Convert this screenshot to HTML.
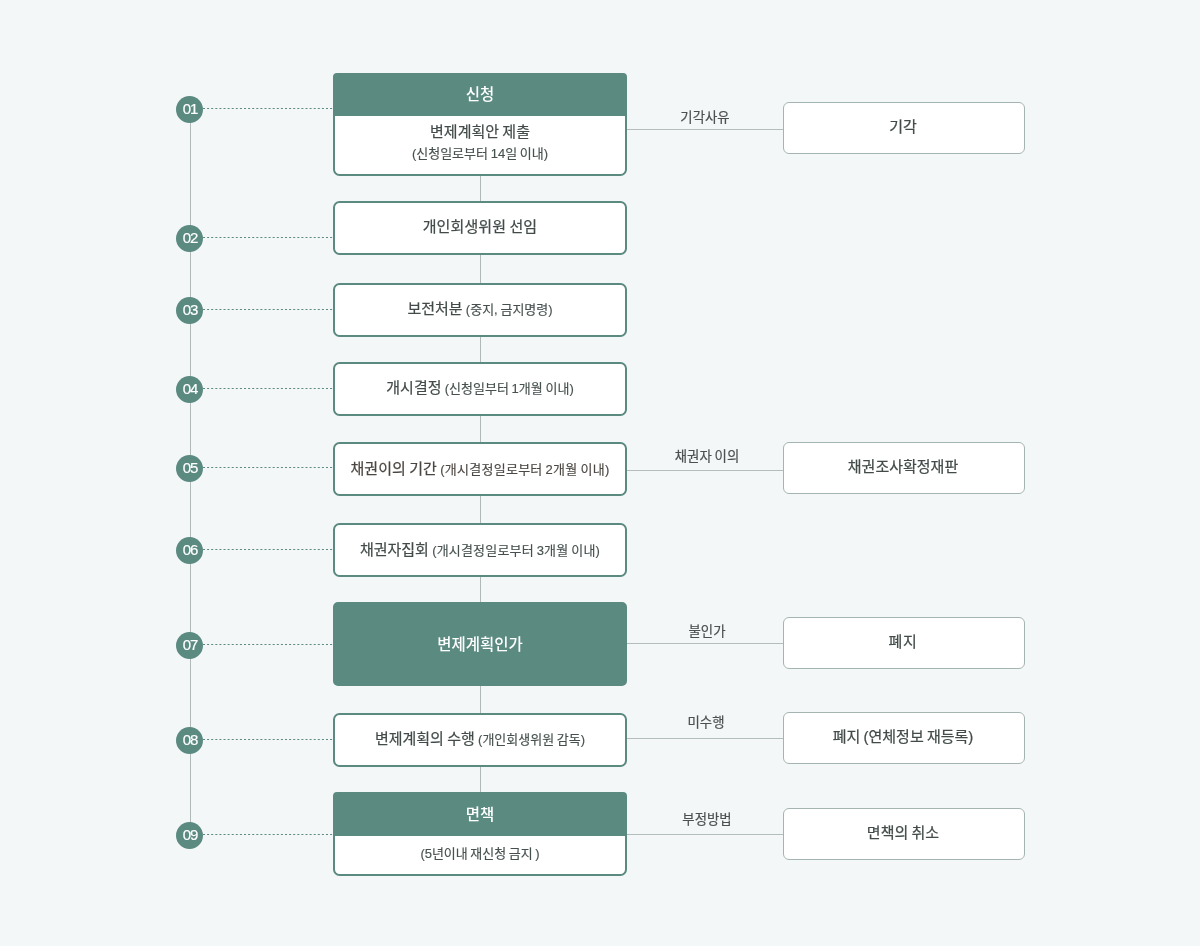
<!DOCTYPE html>
<html lang="ko">
<head>
<meta charset="utf-8">
<title>개인회생 절차</title>
<style>
*{box-sizing:border-box;margin:0;padding:0}
html,body{width:1200px;height:946px;overflow:hidden;background:#f4f7f8}
body{position:relative;font-family:"Liberation Sans","Noto Sans CJK KR",sans-serif;color:#424b4a;letter-spacing:0;word-spacing:-0.9px;font-size:15px;-webkit-text-stroke:0.22px #424b4a}
#wrap{position:absolute;left:0;top:0;width:1200px;height:946px;transform:translateZ(0)}
.vline{position:absolute;left:190px;top:110px;width:1px;height:725px;background:#b1b9b8}
.cline{position:absolute;left:480px;top:175px;width:1px;height:620px;background:#b1b9b8}
.dot{position:absolute;left:203px;width:130px;height:1px;display:block;overflow:hidden}
.num{position:absolute;left:176px;width:27px;height:27px;border-radius:50%;background:#5a8a80;color:#fff;font-size:15px;line-height:26px;text-align:center;letter-spacing:-1.2px;padding-left:1px;-webkit-text-stroke:0.2px #fff}
.box{position:absolute;left:333px;width:294px;border:2px solid #5a8a80;border-radius:6.5px;background:#fff;text-align:center;overflow:hidden;white-space:nowrap}
.box .in{position:absolute;left:0;right:0;top:50%;height:24px;line-height:24px;margin-top:-13px}
.box .hd{position:absolute;left:0;right:0;top:8px;height:24px;color:#fff;-webkit-text-stroke:0;font-size:15.5px;font-weight:500;line-height:24px}
.box .l1,.box .l2{position:absolute;left:0;right:0;height:24px;line-height:24px}
.box.head{border-radius:4px 4px 6.5px 6.5px}
.box.fill{border-radius:5px;background:#5a8a80;color:#fff;-webkit-text-stroke:0;font-size:15.5px;font-weight:500}
.g{display:block;transform:translateZ(0)}
.in,.l1,.l2,.hd,.lab,.rt{transform:translateZ(0)}
.t{font-size:15px}
.s{font-size:13px;letter-spacing:0;-webkit-text-stroke:0.15px #475150;color:#475150}
.hl{position:absolute;left:627px;width:156px;height:1px;background:#b3bdbb}
.lab{position:absolute;width:156px;text-align:center;font-size:13.4px;line-height:24px;height:24px;color:#4e5050;-webkit-text-stroke:0.2px #4e5050}
.rbox{position:absolute;left:783px;width:242px;height:52px;border:1px solid #a4b4b0;border-radius:6px;background:#fff;font-size:15px;text-align:center;white-space:nowrap}
.rt{position:absolute;height:24px;line-height:24px;-webkit-text-stroke:0.24px #424b4a}
</style>
</head>
<body>
<div id="wrap">
<div class="vline"></div>
<div class="cline"></div>

<svg class="dot" style="top:108px" width="130" height="1" viewBox="0 0 130 1"><line x1="0" y1="0.5" x2="130" y2="0.5" stroke="#5a8a80" stroke-width="1" stroke-dasharray="2 2.1"/></svg>
<div class="num" style="top:96px"><span class="g">01</span></div>
<div class="box head" style="top:73px;height:103px;background:linear-gradient(#5a8a80 0,#5a8a80 41px,#fff 41px,#fff 100%)"><div class="hd" style="top:8px">신청</div><div class="l1" style="top:45px"><span class="t">변제계획안 제출</span></div><div class="l2" style="top:66px"><span class="s">(신청일로부터 14일 이내)</span></div></div>
<svg class="dot" style="top:237px" width="130" height="1" viewBox="0 0 130 1"><line x1="0" y1="0.5" x2="130" y2="0.5" stroke="#5a8a80" stroke-width="1" stroke-dasharray="2 2.1"/></svg>
<div class="num" style="top:225px"><span class="g">02</span></div>
<div class="box" style="top:201px;height:54px"><div class="in" style="margin-top:-13px"><span class="t" style="letter-spacing:0.1px">개인회생위원 선임</span></div></div>
<svg class="dot" style="top:309px" width="130" height="1" viewBox="0 0 130 1"><line x1="0" y1="0.5" x2="130" y2="0.5" stroke="#5a8a80" stroke-width="1" stroke-dasharray="2 2.1"/></svg>
<div class="num" style="top:297px"><span class="g">03</span></div>
<div class="box" style="top:283px;height:54px"><div class="in" style="margin-top:-13px"><span class="t">보전처분</span> <span class="s">(중지, 금지명령)</span></div></div>
<svg class="dot" style="top:388px" width="130" height="1" viewBox="0 0 130 1"><line x1="0" y1="0.5" x2="130" y2="0.5" stroke="#5a8a80" stroke-width="1" stroke-dasharray="2 2.1"/></svg>
<div class="num" style="top:376px"><span class="g">04</span></div>
<div class="box" style="top:362px;height:54px"><div class="in" style="margin-top:-13px"><span class="t">개시결정</span> <span class="s">(신청일부터 1개월 이내)</span></div></div>
<svg class="dot" style="top:467px" width="130" height="1" viewBox="0 0 130 1"><line x1="0" y1="0.5" x2="130" y2="0.5" stroke="#5a8a80" stroke-width="1" stroke-dasharray="2 2.1"/></svg>
<div class="num" style="top:455px"><span class="g">05</span></div>
<div class="box" style="top:442px;height:54px"><div class="in" style="margin-top:-12px"><span class="t" style="letter-spacing:0.05px;color:#4a4541;-webkit-text-stroke-color:#4a4541">채권이의 기간</span> <span class="s" style="letter-spacing:0.26px;color:#4d4844;-webkit-text-stroke-color:#4d4844">(개시결정일로부터 2개월 이내)</span></div></div>
<svg class="dot" style="top:549px" width="130" height="1" viewBox="0 0 130 1"><line x1="0" y1="0.5" x2="130" y2="0.5" stroke="#5a8a80" stroke-width="1" stroke-dasharray="2 2.1"/></svg>
<div class="num" style="top:537px"><span class="g">06</span></div>
<div class="box" style="top:523px;height:54px"><div class="in" style="margin-top:-12px"><span class="t" style="letter-spacing:0px">채권자집회</span> <span class="s" style="letter-spacing:0.18px">(개시결정일로부터 3개월 이내)</span></div></div>
<svg class="dot" style="top:644px" width="130" height="1" viewBox="0 0 130 1"><line x1="0" y1="0.5" x2="130" y2="0.5" stroke="#5a8a80" stroke-width="1" stroke-dasharray="2 2.1"/></svg>
<div class="num" style="top:632px"><span class="g">07</span></div>
<div class="box fill" style="top:602px;height:84px"><div class="in" style="margin-top:-11px">변제계획인가</div></div>
<svg class="dot" style="top:739px" width="130" height="1" viewBox="0 0 130 1"><line x1="0" y1="0.5" x2="130" y2="0.5" stroke="#5a8a80" stroke-width="1" stroke-dasharray="2 2.1"/></svg>
<div class="num" style="top:727px"><span class="g">08</span></div>
<div class="box" style="top:713px;height:54px"><div class="in" style="margin-top:-13px"><span class="t">변제계획의 수행</span> <span class="s">(개인회생위원 감독)</span></div></div>
<svg class="dot" style="top:834px" width="130" height="1" viewBox="0 0 130 1"><line x1="0" y1="0.5" x2="130" y2="0.5" stroke="#5a8a80" stroke-width="1" stroke-dasharray="2 2.1"/></svg>
<div class="num" style="top:822px"><span class="g">09</span></div>
<div class="box head" style="top:792px;height:84px;background:linear-gradient(#5a8a80 0,#5a8a80 42px,#fff 42px,#fff 100%)"><div class="hd" style="top:9px">면책</div><div class="l2" style="top:47px"><span class="s" style="letter-spacing:-0.05px">(5년이내 재신청 금지 )</span></div></div>
<div class="hl" style="top:129px"></div>
<div class="lab" style="left:627px;top:106px">기각사유</div>
<div class="rbox" style="top:102px"><div class="rt" style="left:-1px;right:1px;top:12px">기각</div></div>
<div class="hl" style="top:470px"></div>
<div class="lab" style="left:629px;top:445px">채권자 이의</div>
<div class="rbox" style="top:442px"><div class="rt" style="left:-1px;right:1px;top:12px">채권조사확정재판</div></div>
<div class="hl" style="top:643px"></div>
<div class="lab" style="left:629px;top:620px">불인가</div>
<div class="rbox" style="top:617px"><div class="rt" style="left:-1px;right:1px;top:12px"><span style="letter-spacing:0.8px">폐지</span></div></div>
<div class="hl" style="top:738px"></div>
<div class="lab" style="left:628px;top:711px">미수행</div>
<div class="rbox" style="top:712px"><div class="rt" style="left:-1px;right:1px;top:12px">폐지 (연체정보 재등록)</div></div>
<div class="hl" style="top:834px"></div>
<div class="lab" style="left:629px;top:808px">부정방법</div>
<div class="rbox" style="top:808px"><div class="rt" style="left:-1px;right:1px;top:12px">면책의 취소</div></div>
</div>
</body>
</html>
